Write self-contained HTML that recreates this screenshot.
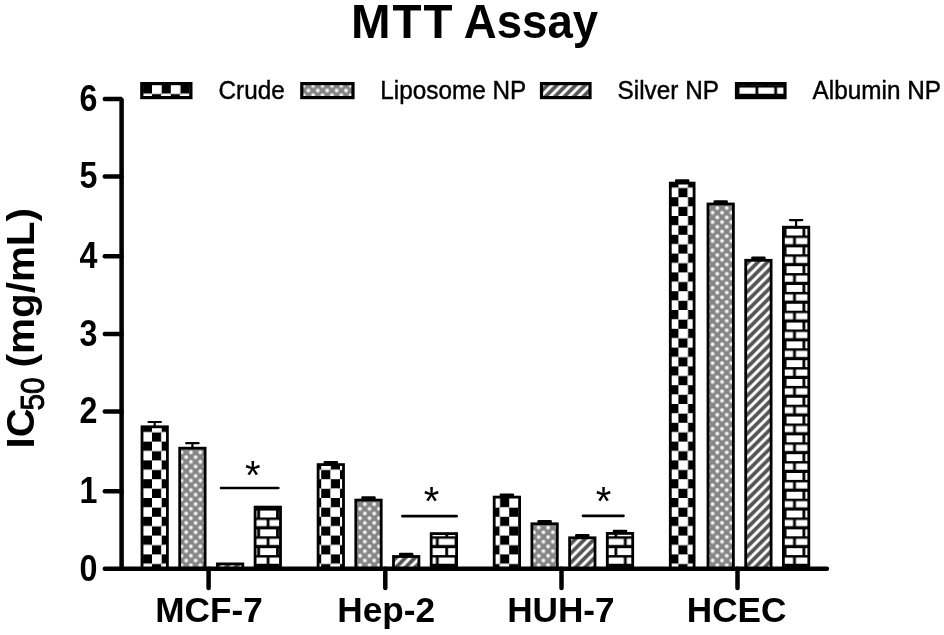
<!DOCTYPE html>
<html lang="en">
<head>
<meta charset="utf-8">
<title>MTT Assay</title>
<style>
html,body{margin:0;padding:0;background:#fff;}
body{width:944px;height:635px;overflow:hidden;font-family:"Liberation Sans",Arial,sans-serif;}
svg{display:block;}
text{font-family:"Liberation Sans",Arial,sans-serif;fill:#000;}
.b{font-weight:bold;}
</style>
</head>
<body>
<svg width="944" height="635" viewBox="0 0 944 635">
<defs>
<pattern id="chk" patternUnits="userSpaceOnUse" x="1.6" y="9.2" width="18.8" height="18.8">
<rect width="18.8" height="18.8" fill="#000"/>
<rect x="-0.3" y="-0.3" width="10.0" height="10.0" rx="1.2" fill="#fff"/>
<rect x="9.1" y="9.1" width="10.0" height="10.0" rx="1.2" fill="#fff"/>
<rect x="18.5" y="18.5" width="1" height="1" fill="#fff"/>
</pattern>
<radialGradient id="dg"><stop offset="0" stop-color="#fff" stop-opacity="1"/><stop offset="0.3" stop-color="#fff" stop-opacity="1"/><stop offset="1" stop-color="#fff" stop-opacity="0"/></radialGradient>
<pattern id="dot" patternUnits="userSpaceOnUse" x="0" y="0" width="9.4" height="9.4">
<rect width="9.4" height="9.4" fill="#858585"/>
<circle cx="2.9" cy="1.2" r="2.7" fill="url(#dg)"/>
<circle cx="2.9" cy="10.6" r="2.7" fill="url(#dg)"/>
<circle cx="7.6" cy="5.9" r="2.7" fill="url(#dg)"/>
<circle cx="-1.8" cy="5.9" r="2.7" fill="url(#dg)"/>
</pattern>
<pattern id="hat" patternUnits="userSpaceOnUse" x="0" y="4.15" width="9.45" height="9.45">
<rect width="9.45" height="9.45" fill="#fff"/>
<path d="M-4.725 9.45L9.45 -4.725M0 14.175L14.175 0" stroke="#545454" stroke-width="3.8"/>
</pattern>
<pattern id="brk" patternUnits="userSpaceOnUse" x="0" y="47.50" width="18.8" height="18.8">
<rect width="18.8" height="18.8" fill="#fff"/>
<path d="M0 0.9H18.8M0 10.3H18.8" stroke="#000" stroke-width="3.1"/>
<path d="M4.9 0V9.4M14.3 9.4V18.8" stroke="#000" stroke-width="2.8"/>
</pattern>
</defs>
<filter id="soft" x="0" y="0" width="944" height="635" filterUnits="userSpaceOnUse"><feGaussianBlur stdDeviation="0.7"/></filter>
<rect width="944" height="635" fill="#fff"/>
<g filter="url(#soft)">

<!-- title -->
<text class="b" font-size="47.5" letter-spacing="2" x="351" y="38">MTT </text>
<text class="b" font-size="48.5" transform="translate(463.8,38) scale(0.94,1)">Assay</text>

<!-- legend -->
<g font-size="26.5" stroke="#000" stroke-width="0.45">
<rect x="141.8" y="83.6" width="49.1" height="14" fill="url(#chk)" stroke="#000" stroke-width="3.2"/>
<text transform="translate(218.5,98.8) scale(0.918,1)">Crude</text>
<rect x="301.8" y="83.6" width="51.2" height="14" fill="url(#dot)" stroke="#000" stroke-width="3.2"/>
<text transform="translate(380.3,98.8) scale(0.918,1)">Liposome NP</text>
<rect x="541.5" y="83.6" width="48.5" height="14" fill="url(#hat)" stroke="#000" stroke-width="3.2"/>
<text transform="translate(617.6,98.8) scale(0.918,1)">Silver NP</text>
<rect x="736.5" y="83.6" width="48.5" height="14" fill="url(#brk)" stroke="#000" stroke-width="3.2"/>
<text transform="translate(812.6,98.8) scale(0.918,1)">Albumin NP</text>
</g>

<!-- bars -->
<rect x="142.00" y="426.80" width="25.40" height="142.00" fill="url(#chk)" stroke="#000" stroke-width="2.8"/>
<path d="M154.70 426.40V422.00M148.50 422.00H160.90" stroke="#000" stroke-width="2.2" stroke-linecap="round" fill="none"/>
<rect x="179.70" y="448.20" width="25.40" height="120.60" fill="url(#dot)" stroke="#000" stroke-width="2.8"/>
<path d="M192.40 447.80V443.20M186.20 443.20H198.60" stroke="#000" stroke-width="2.2" stroke-linecap="round" fill="none"/>
<rect x="217.40" y="563.90" width="25.40" height="4.90" fill="url(#hat)" stroke="#000" stroke-width="2.8"/>
<rect x="255.10" y="507.10" width="25.40" height="61.70" fill="url(#brk)" stroke="#000" stroke-width="2.8"/>
<rect x="318.10" y="464.60" width="25.40" height="104.20" fill="url(#chk)" stroke="#000" stroke-width="2.8"/>
<rect x="323.60" y="460.90" width="14.4" height="3.30" rx="1.1" fill="#000"/>
<rect x="355.80" y="500.10" width="25.40" height="68.70" fill="url(#dot)" stroke="#000" stroke-width="2.8"/>
<rect x="361.30" y="496.30" width="14.4" height="3.40" rx="1.1" fill="#000"/>
<rect x="393.50" y="556.50" width="25.40" height="12.30" fill="url(#hat)" stroke="#000" stroke-width="2.8"/>
<rect x="399.00" y="552.80" width="14.4" height="3.30" rx="1.1" fill="#000"/>
<rect x="431.20" y="533.60" width="25.40" height="35.20" fill="url(#brk)" stroke="#000" stroke-width="2.8"/>
<rect x="494.20" y="497.10" width="25.40" height="71.70" fill="url(#chk)" stroke="#000" stroke-width="2.8"/>
<rect x="499.70" y="493.40" width="14.4" height="3.30" rx="1.1" fill="#000"/>
<rect x="531.90" y="523.80" width="25.40" height="45.00" fill="url(#dot)" stroke="#000" stroke-width="2.8"/>
<rect x="537.40" y="520.10" width="14.4" height="3.30" rx="1.1" fill="#000"/>
<rect x="569.60" y="537.80" width="25.40" height="31.00" fill="url(#hat)" stroke="#000" stroke-width="2.8"/>
<rect x="575.10" y="534.10" width="14.4" height="3.30" rx="1.1" fill="#000"/>
<rect x="607.30" y="533.40" width="25.40" height="35.40" fill="url(#brk)" stroke="#000" stroke-width="2.8"/>
<rect x="612.80" y="529.70" width="14.4" height="3.30" rx="1.1" fill="#000"/>
<rect x="670.30" y="183.10" width="23.80" height="385.70" fill="url(#chk)" stroke="#000" stroke-width="2.8"/>
<rect x="675.00" y="179.30" width="14.4" height="3.40" rx="1.1" fill="#000"/>
<rect x="708.00" y="204.00" width="25.40" height="364.80" fill="url(#dot)" stroke="#000" stroke-width="2.8"/>
<rect x="713.50" y="200.30" width="14.4" height="3.30" rx="1.1" fill="#000"/>
<rect x="745.70" y="260.30" width="25.40" height="308.50" fill="url(#hat)" stroke="#000" stroke-width="2.8"/>
<rect x="751.20" y="256.50" width="14.4" height="3.40" rx="1.1" fill="#000"/>
<rect x="783.40" y="227.20" width="25.40" height="341.60" fill="url(#brk)" stroke="#000" stroke-width="2.8"/>
<path d="M796.10 226.80V220.10M789.90 220.10H802.30" stroke="#000" stroke-width="2.2" stroke-linecap="round" fill="none"/>

<!-- significance -->
<g stroke="#000" stroke-width="2.7" stroke-linecap="round">
<path d="M221 488H278.3"/>
<path d="M402.5 516.2H456.6"/>
<path d="M583 515.8H623.5"/>
</g>
<g font-size="40" text-anchor="middle">
<text x="252.7" y="489">*</text>
<text x="431.5" y="514.8">*</text>
<text x="603.6" y="515">*</text>
</g>

<!-- axes -->
<g stroke="#000" stroke-width="4.5" stroke-linecap="round" stroke-linejoin="bevel" fill="none">
<path d="M104.8 99.05H121.6V568.8"/><path d="M104.8 568.8H826.9"/>
<path d="M104.8 491.25H121.6" /><path d="M104.8 411.40H121.6" /><path d="M104.8 333.95H121.6" /><path d="M104.8 256.25H121.6" /><path d="M104.8 176.40H121.6" />
<path d="M208.6 568.8V588" /><path d="M385.3 568.8V588" /><path d="M561.5 568.8V588" /><path d="M737.5 568.8V588" />
</g>
<g class="b" font-size="37.5"><text transform="translate(97.5,580.50) scale(0.86,1)" text-anchor="end">0</text><text transform="translate(97.5,502.95) scale(0.86,1)" text-anchor="end">1</text><text transform="translate(97.5,423.10) scale(0.86,1)" text-anchor="end">2</text><text transform="translate(97.5,345.65) scale(0.86,1)" text-anchor="end">3</text><text transform="translate(97.5,267.95) scale(0.86,1)" text-anchor="end">4</text><text transform="translate(97.5,188.10) scale(0.86,1)" text-anchor="end">5</text><text transform="translate(97.5,110.75) scale(0.86,1)" text-anchor="end">6</text></g>
<g class="b" font-size="35.2"><text x="209" y="622.2" text-anchor="middle">MCF-7</text><text x="386.2" y="622.2" text-anchor="middle">Hep-2</text><text x="560.9" y="622.2" text-anchor="middle">HUH-7</text><text x="736.6" y="622.2" text-anchor="middle">HCEC</text></g>

<!-- y axis title -->
<text class="b" font-size="38.5" transform="translate(34.2,448.4) rotate(-90) scale(1.04,1)">IC</text>
<text font-size="34" stroke="#000" stroke-width="0.9" transform="translate(44,410.6) rotate(-90) scale(0.88,1)">50</text>
<text class="b" font-size="38.5" transform="translate(34.2,367.4) rotate(-90) scale(1.05,1)">(mg/mL)</text>
</g>
</svg>
</body>
</html>
